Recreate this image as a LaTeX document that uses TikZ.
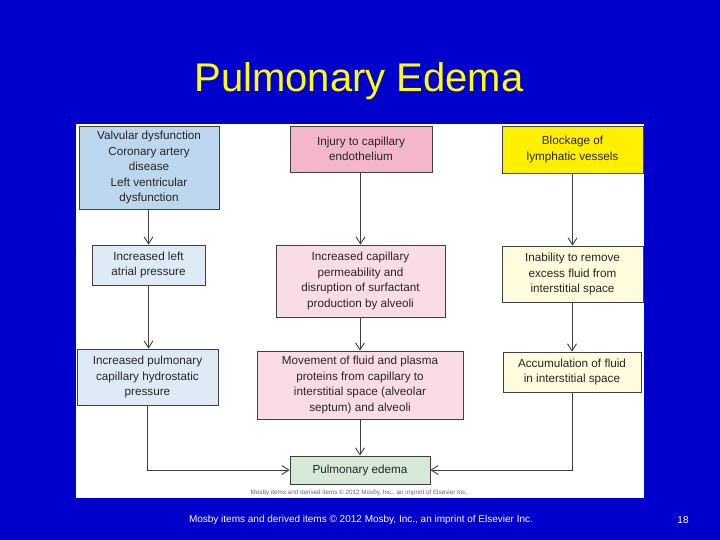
\documentclass[tikz,border=0pt]{standalone}
\usepackage{fontspec}
\setmainfont{Liberation Sans}
\usepackage{tikz}
\usetikzlibrary{arrows.meta,positioning,calc}
\definecolor{slideblue}{RGB}{0,0,204}
\definecolor{titleyellow}{RGB}{255,255,0}
\definecolor{bluedark}{RGB}{189,215,238}
\definecolor{bluelight}{RGB}{222,235,247}
\definecolor{pinkdark}{RGB}{244,182,201}
\definecolor{pinklight}{RGB}{250,220,230}
\definecolor{yellowdark}{RGB}{255,240,0}
\definecolor{yellowlight}{RGB}{255,251,221}
\definecolor{greenlight}{RGB}{214,233,214}
\definecolor{edgegray}{RGB}{64,64,64}

\begin{document}
\begin{tikzpicture}[x=1pt,y=-1pt,
  box/.style={draw=edgegray,line width=0.8pt,inner sep=0pt,align=center,
    font=\fontsize{11.7}{15.5}\selectfont,text=black!85},
  flow/.style={draw=edgegray,line width=0.9pt,-{Straight Barb[length=7pt,width=9pt]}}]
% slide and panel
\fill[slideblue] (0,0) rectangle (720,540);
\fill[white] (76,124) rectangle (644,498);
\useasboundingbox (0,0) rectangle (720,540);
\node[text=titleyellow,font=\fontsize{40}{40}\selectfont] (title) at (359,81) {Pulmonary Edema};

% left column
\node[box,fill=bluedark,minimum width=140pt,minimum height=83pt] (valv) at (149,167.5)
  {Valvular dysfunction\\Coronary artery\\disease\\Left ventricular\\dysfunction};
\node[box,fill=bluelight,minimum width=113pt,minimum height=40pt] (atrial) at (148.5,265)
  {Increased left\\atrial pressure};
\node[box,fill=bluelight,minimum width=141pt,minimum height=56pt] (hydro) at (147.5,377)
  {Increased pulmonary\\capillary hydrostatic\\pressure};

% middle column
\node[box,fill=pinkdark,minimum width=142pt,minimum height=46pt] (injury) at (361,149)
  {Injury to capillary\\endothelium};
\node[box,fill=pinklight,minimum width=169pt,minimum height=72pt] (perm) at (360.5,281)
  {Increased capillary\\permeability and\\disruption of surfactant\\production by alveoli};
\node[box,fill=pinklight,minimum width=206pt,minimum height=68pt] (move) at (360,385)
  {Movement of fluid and plasma\\proteins from capillary to\\interstitial space (alveolar\\septum) and alveoli};
\node[box,fill=greenlight,minimum width=140pt,minimum height=28pt] (edema) at (360,470)
  {Pulmonary edema};

% right column
\node[box,fill=yellowdark,minimum width=141pt,minimum height=47pt] (block) at (572.5,149.5)
  {Blockage of\\lymphatic vessels};
\node[box,fill=yellowlight,minimum width=141pt,minimum height=56pt] (inab) at (572.5,274)
  {Inability to remove\\excess fluid from\\interstitial space};
\node[box,fill=yellowlight,minimum width=138pt,minimum height=40pt] (accum) at (572,372)
  {Accumulation of fluid\\in interstitial space};

% credit line
\node[text=black!60,font=\fontsize{6.3}{7}\selectfont] (credit) at (359,493)
  {Mosby items and derived items \textcopyright\ 2012 Mosby, Inc., an imprint of Elsevier Inc.};
\node[text=white,font=\fontsize{10}{11}\selectfont] (footer) at (361,520)
  {Mosby items and derived items \textcopyright\ 2012 Mosby, Inc., an imprint of Elsevier Inc.};
\node[text=white,font=\fontsize{10}{11}\selectfont] (pageno) at (683,520) {18};

% connectors
\draw[flow] (valv.south -| atrial) -- (atrial.north);
\draw[flow] (atrial.south) -- (atrial.south |- hydro.north);
\draw[flow] (hydro.south) |- (edema.west);
\draw[flow] (injury.south -| perm) -- (perm.north);
\draw[flow] (perm.south -| move) -- (move.north);
\draw[flow] (move.south) -- (edema.north);
\draw[flow] (block.south) -- (inab.north);
\draw[flow] (inab.south -| accum) -- (accum.north);
\draw[flow] (accum.south) |- (edema.east);
\end{tikzpicture}
\end{document}
